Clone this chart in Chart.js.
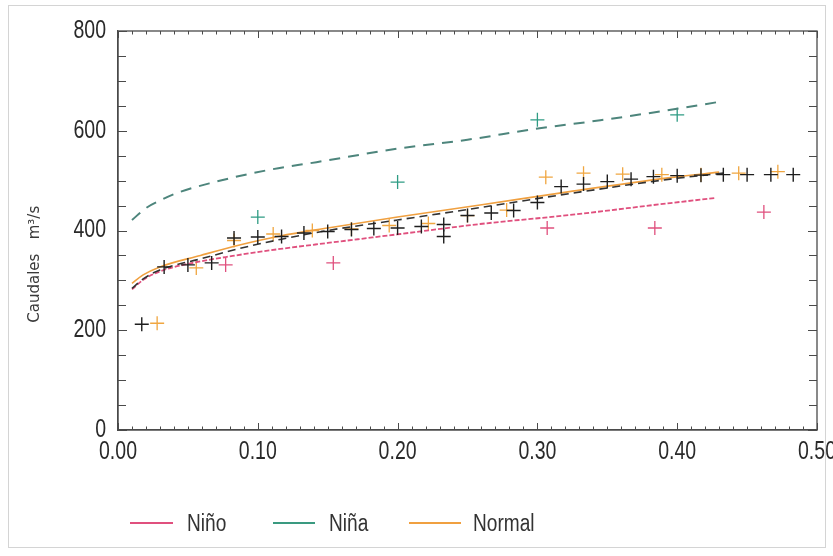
<!DOCTYPE html>
<html><head><meta charset="utf-8">
<script src="https://cdn.jsdelivr.net/npm/chart.js@4/dist/chart.umd.min.js"></script>
<style>
html,body{margin:0;padding:0;background:#fff;}
#wrap{position:relative;width:833px;height:556px;overflow:hidden;}
#frame{position:absolute;left:8px;top:5px;width:818px;height:543px;border:1px solid #d4d4d4;box-sizing:border-box;}
canvas{position:absolute;left:0;top:0;}
.leg{position:absolute;top:509px;height:28px;font-family:'Liberation Sans',Arial,sans-serif;font-size:23px;color:#333;line-height:28px;}
.leg span.l{position:absolute;top:13px;height:2px;left:0;}
.leg span.t{position:absolute;top:0;white-space:nowrap;transform:scaleX(0.83);transform-origin:0 50%;}
</style></head>
<body><div id="wrap"><div id="frame"></div><canvas id="c" width="833" height="556"></canvas>
<div class="leg" style="left:130px"><span class="l" style="background:#e0507e;width:43px"></span><span class="t" style="left:57px">Niño</span></div>
<div class="leg" style="left:273px"><span class="l" style="background:#3a9a80;width:42px"></span><span class="t" style="left:56px">Niña</span></div>
<div class="leg" style="left:409px"><span class="l" style="background:#f0a040;width:52px"></span><span class="t" style="left:64px">Normal</span></div>
</div>
<script>
// ---- Data ----
// All-years points (black crosses)
const allX = [0.017,0.033,0.050,0.067,0.083,0.100,0.117,0.133,0.150,0.167,0.183,0.200,0.217,0.233,0.233,0.250,0.267,0.283,0.300,0.317,0.333,0.350,0.367,0.383,0.400,0.417,0.433,0.450,0.467,0.483];
const allY = [212,327,331,335,385,387,388,395,398,402,404,405,408,388,412,430,435,440,456,488,493,498,503,508,510,511,512,512,512,512];
// Niño points
const ninoX = [0.077,0.154,0.307,0.384,0.462];
const ninoY = [331,335,405,405,437];
// Niña points
const ninaX = [0.100,0.200,0.300,0.400];
const ninaY = [427,497,622,632];
// Normal points
const normX = [0.028,0.056,0.083,0.111,0.139,0.167,0.194,0.222,0.250,0.278,0.306,0.333,0.361,0.389,0.417,0.444,0.472];
const normY = [214,325,380,393,400,403,410,414,430,441,507,515,513,512,512,515,518];
// Fitted curves
const ninaFitX = [0.010,0.020,0.030,0.042,0.066,0.107,0.142,0.202,0.250,0.297,0.345,0.393,0.428];
const ninaFitY = [421,445,460,475,495,521,537,565,582,603,621,641,657];
const ninoFitX = [0.010,0.018,0.030,0.050,0.082,0.116,0.150,0.202,0.259,0.323,0.395,0.427];
const ninoFitY = [282,301,318,333,349,363,375,393,413,431,455,465];
const normFitX = [0.010,0.018,0.030,0.059,0.087,0.116,0.150,0.200,0.259,0.323,0.395,0.430];
const normFitY = [294,311,327,350,371,389,405,427,451,478,506,517];
const allFitX = [0.010,0.018,0.030,0.059,0.087,0.116,0.150,0.200,0.259,0.323,0.395,0.433];
const allFitY = [284,303,321,343,364,382,400,421,446,474,503,515];
// Axis ticks
const xTickValues = [0.00,0.10,0.20,0.30,0.40,0.50];
const yTickValues = [0,200,400,600,800];
const seriesNames = ['Niño','Niña','Normal'];
const yTitle = 'Caudales   m³/s';

const pts = (xs, ys) => xs.map((x,i)=>({x:x,y:ys[i]}));
const NARROW = 0.78;
const TICKFONT = {family:"'Liberation Sans', Arial, sans-serif", size:25};

// Draw tick labels in a narrow (condensed) rendering like the reference.
const narrowLabels = {
  id:'narrowLabels',
  afterLayout(chart){
    Object.values(chart.scales).forEach(s=>{
      if (s._narrowWrapped) return;
      const orig = s.drawLabels;
      s.drawLabels = function(area){
        const ctx = this.ctx;
        ctx.fillText = function(t,x,y){
          this.save(); this.scale(NARROW,1);
          CanvasRenderingContext2D.prototype.fillText.call(this,t,x/NARROW,y);
          this.restore();
        };
        try { orig.call(this, area); } finally { delete ctx.fillText; }
      };
      s._narrowWrapped = true;
    });
  }
};

const frameTicks = {
  id:'frameTicks',
  afterDraw(chart){
    const {ctx, chartArea:{left,right,top,bottom}, scales:{x,y}} = chart;
    ctx.save();
    ctx.strokeStyle='#4a4a4a'; ctx.lineWidth=1.3;
    ctx.strokeRect(left,top,right-left,bottom-top);
    ctx.lineWidth=1;
    for(let i=0;i<=50;i++){
      const px = Math.round(x.getPixelForValue(i/100))+0.5;
      const L = (i%10===0)?7:3.5;
      ctx.beginPath();
      ctx.moveTo(px,bottom); ctx.lineTo(px,bottom-L);
      ctx.moveTo(px,top); ctx.lineTo(px,top+L);
      ctx.stroke();
    }
    for(let v=0;v<=800;v+=50){
      const py = Math.round(y.getPixelForValue(v))+0.5;
      const L = (v%200===0)?9:8;
      ctx.beginPath();
      ctx.moveTo(left,py); ctx.lineTo(left+L,py);
      ctx.moveTo(right,py); ctx.lineTo(right-L,py);
      ctx.stroke();
    }
    ctx.restore();
  }
};

const lineBase = {showLine:true, pointRadius:0, tension:0.4, cubicInterpolationMode:'monotone'};

new Chart(document.getElementById('c'), {
  type:'scatter',
  data:{datasets:[
    {label:'all', data:pts(allX,allY), pointStyle:'cross', pointRadius:7, borderColor:'#1e1e1e', pointBorderWidth:1.4, order:0},
    {label:seriesNames[0]+' pts', data:pts(ninoX,ninoY), pointStyle:'cross', pointRadius:7, borderColor:'#e0507e', pointBorderWidth:1.3, order:3},
    {label:seriesNames[1]+' pts', data:pts(ninaX,ninaY), pointStyle:'cross', pointRadius:7, borderColor:'#2f9c84', pointBorderWidth:1.3, order:3},
    {label:seriesNames[2]+' pts', data:pts(normX,normY), pointStyle:'cross', pointRadius:7, borderColor:'#f0a640', pointBorderWidth:1.3, order:4},
    Object.assign({label:seriesNames[1], data:pts(ninaFitX,ninaFitY), borderColor:'#4d857c', borderWidth:2, borderDash:[11,8], order:1}, lineBase),
    Object.assign({label:seriesNames[0], data:pts(ninoFitX,ninoFitY), borderColor:'#e0507e', borderWidth:1.8, borderDash:[5,2], order:2}, lineBase),
    Object.assign({label:seriesNames[2], data:pts(normFitX,normFitY), borderColor:'#f0a040', borderWidth:1.6, order:2}, lineBase),
    Object.assign({label:'all fit', data:pts(allFitX,allFitY), borderColor:'#333', borderWidth:1.6, borderDash:[8,5], order:1}, lineBase)
  ]},
  options:{
    responsive:false, animation:false,
    layout:{padding:{left:0,top:31,right:16,bottom:66}},
    plugins:{legend:{display:false}, tooltip:{enabled:false}},
    scales:{
      x:{type:'linear', min:0, max:0.5,
        afterBuildTicks(s){ s.ticks = xTickValues.map(v=>({value:v})); },
        ticks:{callback:v=>Number(v).toFixed(2), font:TICKFONT, color:'#2a2a2a', padding:7, maxRotation:0, autoSkip:false},
        grid:{display:false, drawTicks:false},
        border:{display:true, color:'#4a4a4a', width:1.3},
        afterFit(s){ s.height=60; s.paddingLeft=0; s.paddingRight=0; }
      },
      y:{min:0, max:800,
        afterBuildTicks(s){ s.ticks = yTickValues.map(v=>({value:v})); },
        ticks:{font:TICKFONT, color:'#2a2a2a', padding:12},
        grid:{display:false, drawTicks:false},
        border:{display:true, color:'#4a4a4a', width:1.3},
        title:{display:true, text:yTitle + '\u2002'.repeat(9), font:{family:'DejaVu Sans', size:15}, color:'#3a3a3a', padding:{top:26,bottom:0}},
        afterFit(s){ s.width=118; s.paddingTop=0; s.paddingBottom=0; }
      }
    }
  },
  plugins:[narrowLabels, frameTicks]
});
</script>
</body></html>
